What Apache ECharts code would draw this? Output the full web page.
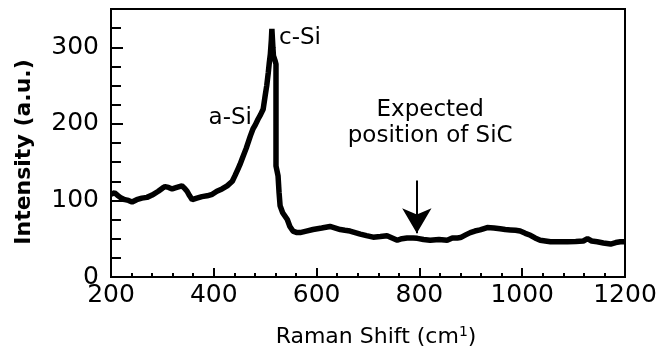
<!DOCTYPE html>
<html>
<head>
<meta charset="utf-8">
<script src="https://cdn.jsdelivr.net/npm/echarts@6/dist/echarts.min.js"></script>
<style>
  html, body { margin: 0; padding: 0; background: #fff; }
  #chart { width: 657px; height: 347px; }
</style>
</head>
<body>
<div id="chart"></div>
<script>
// Raman spectrum
var shift = [200, 207, 214, 220, 227, 234, 241, 250, 260, 270, 280, 292, 300, 305, 312, 319, 328, 338, 343, 348,
  353, 358, 367, 377, 387, 397, 406, 416, 426, 436, 441, 447, 451, 455, 463, 471, 476, 481, 486, 491,
  496, 500, 503, 506, 508, 510, 512, 513, 515, 516, 519, 521, 521, 521, 525, 527, 529, 534, 539, 543,
  548, 554, 562, 568, 580, 593, 610, 626, 646, 655, 665, 675, 685, 697, 710, 724, 737, 747, 757, 766,
  776, 788, 796, 808, 821, 838, 854, 864, 874, 880, 890, 899, 908, 918, 932, 945, 957, 967, 977, 987,
  996, 1006, 1016, 1025, 1035, 1045, 1055, 1070, 1088, 1104, 1119, 1127, 1135, 1146, 1158, 1172, 1182, 1191, 1200];
var intensity = [108, 110, 106, 103, 101, 100, 98, 101, 103, 104, 107, 112, 116, 118, 117, 115, 117, 119, 116, 112,
  106, 101, 103, 105, 106, 108, 112, 115, 119, 125, 132, 141, 147, 154, 168, 184, 193, 199, 206, 212,
  219, 237, 250, 267, 280, 291, 310, 324, 300, 289, 283, 278, 200, 145, 132, 110, 93, 84, 79, 75,
  66, 60, 58, 58, 60, 62, 64, 66, 62, 61, 60, 58, 56, 54, 52, 53, 54, 51, 48, 50,
  51, 51, 50.5, 49, 48, 49, 48, 51, 51, 51.5, 55, 58, 60, 61.5, 64.5, 64, 63, 62, 61.5, 61,
  60, 57, 54.5, 51, 48, 47, 46, 46, 46, 46.5, 47, 50, 47, 46, 44.5, 43, 45, 46, 46];

var xTicks = [200, 400, 600, 800, 1000, 1200];
var yTicks = [0, 100, 200, 300];

// annotations, in data coordinates
var sicArrow = [[795, 126], [795, 57]];
var labelCSi = [527, 312];
var labelASi = [432, 207];
var labelSiC = [821, 167];

var chart = echarts.init(document.getElementById('chart'));
var font = 'DejaVu Sans';

var points = shift.map(function (x, i) { return [x, intensity[i]]; });

var option = {
    animation: false,
    grid: {
        left: 111,
        right: 32,
        top: 9,
        bottom: 70,
        outerBoundsMode: 'none',
        show: true,
        borderColor: '#000',
        borderWidth: 2
    },
    xAxis: {
        type: 'value',
        min: xTicks[0],
        max: xTicks[xTicks.length - 1],
        interval: 200,
        name: 'Raman Shift (cm{sup|1})',
        nameLocation: 'middle',
        nameGap: 48,
        nameTextStyle: {
            color: '#000', fontFamily: font, fontSize: 22, padding: [0, 0, 0, 16],
            rich: { sup: { fontSize: 14, fontFamily: font, color: '#000', padding: [0, 0, 11, 0] } }
        },
        axisLine: { lineStyle: { color: '#000', width: 2 } },
        axisTick: { inside: true, length: 9, lineStyle: { color: '#000', width: 2 } },
        minorTick: { show: true, splitNumber: 5, length: 4, lineStyle: { color: '#000', width: 2 } },
        splitLine: { show: false },
        axisLabel: {
            color: '#000', fontFamily: font, fontSize: 25, margin: 6,
            formatter: function (v) { return String(v); }
        }
    },
    yAxis: {
        type: 'value',
        min: 0,
        max: 350,
        interval: 100,
        name: 'Intensity (a.u.)',
        nameLocation: 'middle',
        nameGap: 76,
        nameTextStyle: { color: '#000', fontFamily: font, fontSize: 22, fontWeight: 'bold', padding: [0, 18, 0, 0] },
        axisLine: { lineStyle: { color: '#000', width: 2 } },
        axisTick: { inside: true, length: 12, lineStyle: { color: '#000', width: 2 } },
        minorTick: { show: true, splitNumber: 4, length: 10, lineStyle: { color: '#000', width: 2 } },
        splitLine: { show: false },
        axisLabel: {
            color: '#000', fontFamily: font, fontSize: 25, margin: 12,
            formatter: function (v) { return yTicks.indexOf(v) >= 0 ? String(v) : ''; }
        }
    },
    series: [{
        type: 'line',
        data: points,
        showSymbol: false,
        lineStyle: { color: '#000', width: 5.5 },
        z: 3,
        markLine: {
            silent: true,
            symbol: ['none', 'arrow'],
            symbolSize: [22, 25],
            label: { show: false },
            lineStyle: { color: '#000', width: 2, type: 'solid' },
            data: [[{ coord: sicArrow[0] }, { coord: sicArrow[1] }]]
        },
        markPoint: {
            silent: true,
            symbol: 'circle',
            symbolSize: 0,
            label: { show: true, color: '#000', fontFamily: font, fontSize: 23 },
            data: [
                { coord: labelCSi, label: { formatter: 'c-Si', position: 'right', distance: 0 } },
                { coord: labelASi, label: { formatter: 'a-Si', position: 'inside' } },
                { coord: labelSiC, label: { formatter: 'Expected\nposition of SiC', position: 'top', distance: 0, lineHeight: 26, align: 'center' } }
            ]
        }
    }]
};
chart.setOption(option);
</script>
</body>
</html>
